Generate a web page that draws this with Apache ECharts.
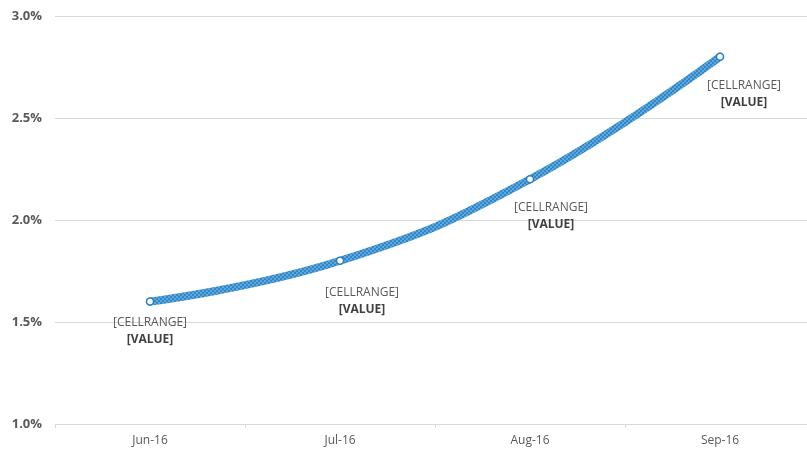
<!DOCTYPE html>
<html><head><meta charset="utf-8">
<script src="https://cdn.jsdelivr.net/npm/echarts@6/dist/echarts.min.js"></script>
<style>html,body{margin:0;padding:0;background:#fff;overflow:hidden}#c{width:815px;height:454px}</style>
</head><body><div id="c"></div>
<script>
const categories = ['Jun-16', 'Jul-16', 'Aug-16', 'Sep-16'];
const values = [1.6, 1.8, 2.2, 2.8];
const yTicks = [1.0, 1.5, 2.0, 2.5, 3.0];
const labelOffsets = [[0, 3], [22, 14], [21, 11], [24, 11]];

const pc = document.createElement('canvas');
pc.width = 4; pc.height = 4;
const g = pc.getContext('2d');
g.fillStyle = '#3486c4'; g.fillRect(0,0,4,4);
g.fillStyle = '#5ba8de'; g.fillRect(0,0,2,2); g.fillRect(2,2,2,2);

const chart = echarts.init(document.getElementById('c'));
chart.setOption({
  animation: false,
  grid: { left: 55, right: 0, top: 16, bottom: 30, containLabel: false },
  xAxis: {
    type: 'category', data: categories, boundaryGap: true,
    axisLine: { lineStyle: { color: '#d9d9d9' } },
    axisTick: { show: true, length: 4, lineStyle: { color: '#d9d9d9' } },
    axisLabel: { color: '#595959', fontFamily: 'Open Sans', fontSize: 12, margin: 11 }
  },
  yAxis: {
    type: 'value', min: yTicks[0], max: yTicks[yTicks.length-1], interval: 0.5,
    axisLine: { show: false }, axisTick: { show: false },
    splitLine: { lineStyle: { color: '#d9d9d9' } },
    axisLabel: { color: '#595959', fontFamily: 'Open Sans', fontSize: 13, fontWeight: 'bold', margin: 13,
      formatter: v => v.toFixed(1) + '%' }
  },
  series: [{
    type: 'line', smooth: 0.45,
    data: values.map((v, i) => ({ value: v, label: { offset: labelOffsets[i] } })),
    symbol: 'circle', symbolSize: 7,
    itemStyle: { color: '#fff', borderColor: '#2f7fbf', borderWidth: 1.5 },
    lineStyle: { width: 8, color: { image: pc, repeat: 'repeat' }, cap: 'round' },
    label: {
      show: true, position: 'bottom',
      formatter: '{a|[CELLRANGE]}\n{b|[VALUE]}',
      rich: {
        a: { color: '#595959', fontFamily: 'Open Sans', fontSize: 12, lineHeight: 17 },
        b: { color: '#404040', fontFamily: 'Open Sans', fontSize: 12, fontWeight: 'bold', lineHeight: 17 }
      }
    },
    z: 3
  }]
});
</script></body></html>
